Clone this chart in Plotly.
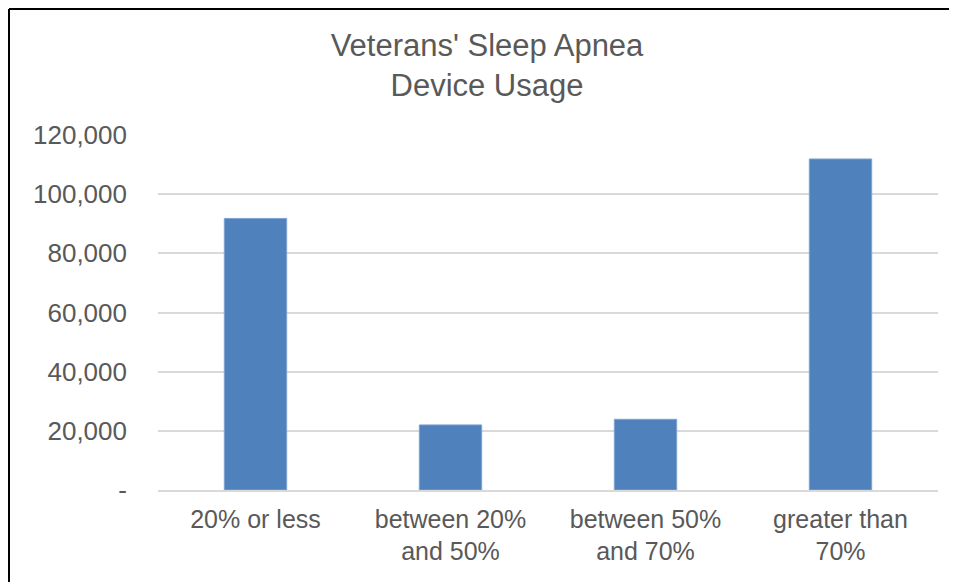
import plotly.graph_objects as go

categories = ["20% or less", "between 20%<br>and 50%", "between 50%<br>and 70%", "greater than<br>70%"]
values = [91800, 22000, 23900, 111900]
y_tickvals = [0, 20000, 40000, 60000, 80000, 100000, 120000]
y_ticktext = ["-", "20,000", "40,000", "60,000", "80,000", "100,000", "120,000"]

# page has an 8px body margin, so the figure is laid out in shifted coordinates
W, H = 949, 574
L, R, T, B = 150, 19, 127, 92
pw, ph = W - L - R, H - T - B

fig = go.Figure(go.Bar(
    x=categories, y=values,
    marker=dict(color="#4F81BD", line=dict(color="#7FA3D3", width=1)),
    width=0.32,
))

bx = (1 - L) / pw
by = 1 + (T - 1) / ph

fig.update_layout(
    width=W, height=H,
    margin=dict(l=L, r=R, t=T, b=B),
    paper_bgcolor="white", plot_bgcolor="white",
    font=dict(family="Liberation Sans, Arial, sans-serif", color="#595959"),
    title=dict(text="Veterans' Sleep Apnea<br>Device Usage", x=479/W, xanchor="center",
               xref="container", y=1 - 48/H, yref="container", yanchor="middle",
               font=dict(size=31, color="#595959")),
    showlegend=False,
    xaxis=dict(showgrid=False, showline=True, linecolor="#d9d9d9", linewidth=1.5,
               tickfont=dict(size=25, color="#595959"), ticks="", ticklabelstandoff=6),
    yaxis=dict(range=[0, 120000], tickvals=y_tickvals, ticktext=y_ticktext,
               showgrid=True, gridcolor="#d9d9d9", gridwidth=1.5, zeroline=False,
               tickfont=dict(size=26, color="#595959"), ticks="", ticklabelstandoff=30),
    shapes=[
        dict(type="line", xref="paper", yref="paper", x0=bx, x1=bx, y0=-1, y1=by,
             line=dict(color="black", width=2)),
        dict(type="line", xref="paper", yref="paper", x0=bx, x1=1.5, y0=by, y1=by,
             line=dict(color="black", width=2)),
    ],
)

fig.write_html("out.html")
